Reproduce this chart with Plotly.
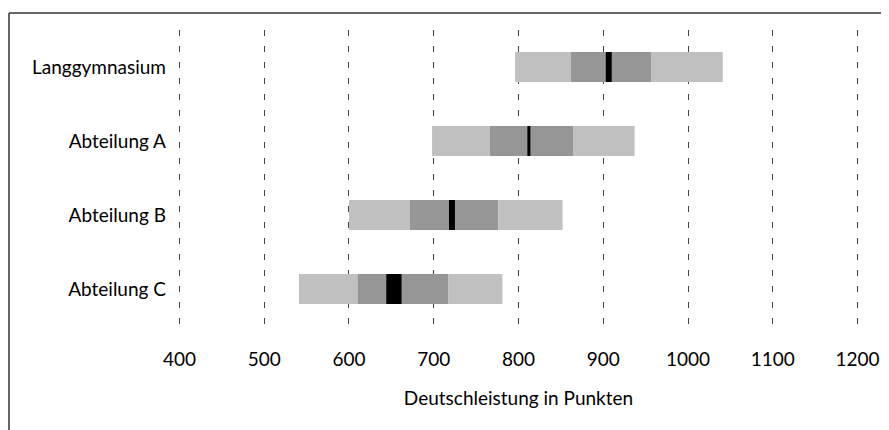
import plotly.graph_objects as go

categories = ["Langgymnasium", "Abteilung A", "Abteilung B", "Abteilung C"]
p5 = [796, 698, 600, 541]
p25 = [862, 766, 672, 610]
mean_lo = [903, 810.5, 718, 644]
mean_hi = [910, 814, 725, 662]
p75 = [957, 865, 776, 717]
p95 = [1041, 937, 852, 781]
x_ticks = [400, 500, 600, 700, 800, 900, 1000, 1100, 1200]

LIGHT = "#c0c0c0"
MID = "#969696"
BLACK = "#000000"
FONT = "Lato"
FS = 19
BAR_W = 0.405

# page body has an 8px margin, so the figure is drawn 8px smaller
W, H = 881, 422
ML, MR, MT, MB = 163, 23, 22, 104
PW = W - ML - MR
PH = H - MT - MB

def seg(lo, hi, color):
    return go.Bar(
        y=categories, x=[h - l for l, h in zip(lo, hi)], base=lo,
        orientation="h", marker=dict(color=color, line=dict(width=0)),
        width=BAR_W, showlegend=False, hoverinfo="skip",
    )

fig = go.Figure()
fig.add_trace(seg(p5, p25, LIGHT))
fig.add_trace(seg(p25, p75, MID))
fig.add_trace(seg(p75, p95, LIGHT))
fig.add_trace(seg(mean_lo, mean_hi, BLACK))

frame_x = (1 - ML) / PW
frame_y = (H - MB - 5) / PH

fig.update_layout(
    width=W, height=H,
    margin=dict(l=ML, r=MR, t=MT, b=MB, autoexpand=False),
    paper_bgcolor="white", plot_bgcolor="white",
    barmode="overlay",
    font=dict(family=FONT, size=FS, color="#000"),
    xaxis=dict(
        range=[390, 1210], tickvals=x_ticks, ticktext=[str(v) for v in x_ticks],
        showgrid=True, gridcolor="#444", gridwidth=1, griddash="6px,10px",
        zeroline=False, showline=False, ticks="", ticklabelstandoff=20,
        tickfont=dict(size=FS),
        title=dict(text="Deutschleistung in Punkten", font=dict(size=FS), standoff=22),
        fixedrange=True,
    ),
    yaxis=dict(
        categoryorder="array", categoryarray=categories, autorange="reversed",
        showgrid=False, zeroline=False, showline=False, ticks="",
        ticklabelstandoff=4, tickfont=dict(size=FS), fixedrange=True,
    ),
    shapes=[
        dict(type="line", xref="paper", yref="paper",
             x0=frame_x, x1=1.2, y0=frame_y, y1=frame_y,
             line=dict(color="#333", width=1.5)),
        dict(type="line", xref="paper", yref="paper",
             x0=frame_x, x1=frame_x, y0=-0.5, y1=frame_y,
             line=dict(color="#333", width=1.5)),
    ],
)

fig.write_html("out.html")
